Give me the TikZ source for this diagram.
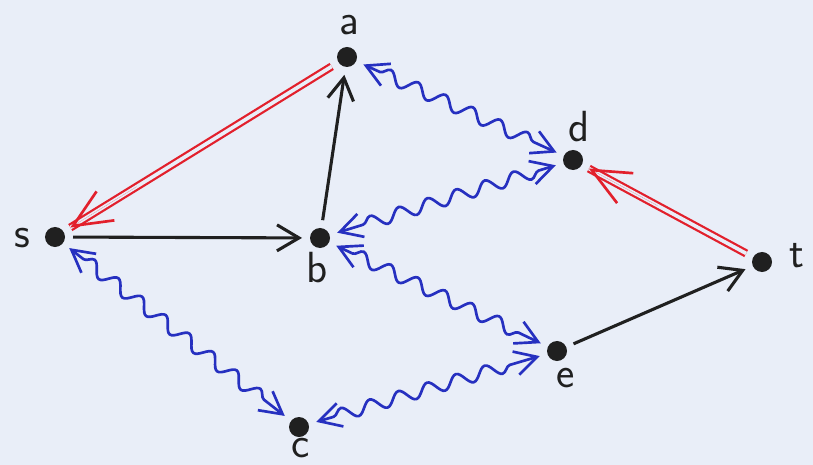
\documentclass[tikz,border=0pt]{standalone}
\usepackage{tikz}
\usetikzlibrary{arrows.meta,decorations.pathmorphing,calc}
\definecolor{paper}{RGB}{233,238,248}
\definecolor{penred}{RGB}{226,32,44}
\definecolor{penblue}{RGB}{38,48,192}
\definecolor{penblack}{RGB}{32,32,32}

\begin{document}
\begin{tikzpicture}[x=0.025cm, y=-0.025cm,
    vertex/.style={circle, fill=penblack, minimum size=0.5cm, inner sep=0pt, outer sep=0.2cm},
    lbl/.style={font=\fontsize{31}{31}\sffamily, text=penblack, inner sep=0pt},
    plain/.style={penblack, line width=2.2pt, -{Straight Barb[length=5.5mm, width=6.5mm, line width=2.2pt]}},
    flow/.style={draw=penred, double=paper, double distance=2.6pt, line width=1.6pt},
    flowtip/.style={penred, line width=0.01pt, -{Straight Barb[length=9.5mm, width=8.5mm, line width=1.9pt]}},
    wave/.style={penblue, line width=1.9pt,
      {Straight Barb[length=5.5mm, width=6mm, line width=1.9pt]}-{Straight Barb[length=5.5mm, width=6mm, line width=1.9pt]},
      decorate, decoration={snake, amplitude=0.16cm, segment length=0.75cm, pre length=0.45cm, post length=0.45cm}}
  ]
  \fill[paper] (0,0) rectangle (813,465);

  % vertices
  \node[vertex] (s) at (55,237) {};
  \node[vertex] (a) at (347,57) {};
  \node[vertex] (b) at (320,238) {};
  \node[vertex] (c) at (299,427) {};
  \node[vertex] (d) at (573,160) {};
  \node[vertex] (e) at (557,351) {};
  \node[vertex] (t) at (762,262) {};

  \node[lbl] (ls) at (22,238) {s};
  \node[lbl] (la) at (349,25) {a};
  \node[lbl] (lb) at (317,268) {b};
  \node[lbl] (lc) at (301,448) {c};
  \node[lbl] (ld) at (579,127) {d};
  \node[lbl] (le) at (566,378) {e};
  \node[lbl] (lt) at (797,256) {t};

  % black edges
  \draw[plain] (s) -- (b);
  \draw[plain] (b) -- (a);
  \draw[plain] (e) -- (t);

  % red edges
  \draw[flow] (a) -- (s);
  \draw[flowtip] ($(s)!2.4cm!(a)$) -- (s);
  \draw[flow] (t) -- (d);
  \draw[flowtip] ($(d)!2.4cm!(t)$) -- (d);

  % blue wavy edges
  \draw[wave] (a) -- (d);
  \draw[wave] (d) -- (b);
  \draw[wave] (b) -- (e);
  \draw[wave] (s) -- (c);
  \draw[wave] (c) -- (e);
\end{tikzpicture}
\end{document}
